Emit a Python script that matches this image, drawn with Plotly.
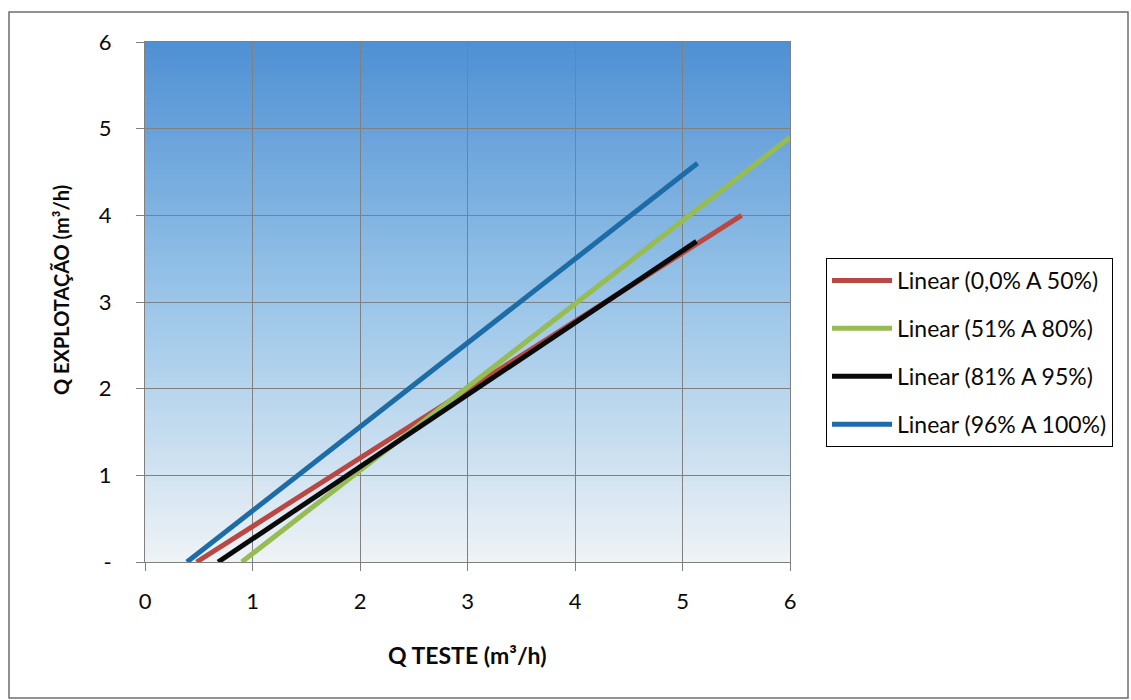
import plotly.graph_objects as go

# Trendline data (endpoints)
series_names = ["Linear (0,0% A 50%)", "Linear (51% A 80%)", "Linear (81% A 95%)", "Linear (96% A 100%)"]
x_start = [0.48, 0.90, 0.68, 0.39]
x_end = [5.55, 6.00, 5.13, 5.14]
y_start = [0.0, 0.0, 0.0, 0.0]
y_end = [4.00, 4.90, 3.70, 4.60]
colors = ["rgb(185,72,66)", "rgb(150,188,82)", "rgb(10,10,10)", "rgb(28,108,168)"]

y_tickvals = [0, 1, 2, 3, 4, 5, 6]
y_ticktext = ["-", "1", "2", "3", "4", "5", "6"]
x_tickvals = [0, 1, 2, 3, 4, 5, 6]

FONT = "Lato"
TXT = "rgb(10,10,10)"

fig = go.Figure()
for i, name in enumerate(series_names):
    fig.add_trace(go.Scatter(
        x=[x_start[i], x_end[i]], y=[y_start[i], y_end[i]],
        mode="lines", name=name, legendgroup=f"g{i}",
        line=dict(color=colors[i], width=5),
    ))

# Vertical gradient background for plot area
shapes = []
n = 90
top = (80, 145, 212)
mid = (155, 198, 233)
bot = (238, 243, 246)
for k in range(n):
    t = k / (n - 1)  # 0 bottom -> 1 top
    if t < 0.5:
        u = t / 0.5
        c = tuple(int(bot[j] + (mid[j] - bot[j]) * u) for j in range(3))
    else:
        u = (t - 0.5) / 0.5
        c = tuple(int(mid[j] + (top[j] - mid[j]) * u) for j in range(3))
    shapes.append(dict(type="rect", xref="paper", yref="paper",
                       x0=0, x1=1, y0=k / n, y1=(k + 1) / n + 0.002,
                       fillcolor=f"rgb{c}", line=dict(width=0), layer="below"))

# Outer chart border
L, R, T, B = 145, 341, 42, 138
W, H = 1131, 700
pw, ph = W - L - R, H - T - B
def px_x(p): return (p - L) / pw
def px_y(p): return (H - B - p) / ph
shapes.append(dict(type="rect", xref="paper", yref="paper",
                   x0=px_x(9), x1=px_x(1128), y0=px_y(698), y1=px_y(12),
                   line=dict(color="rgb(110,110,110)", width=1.5), fillcolor="rgba(0,0,0,0)"))

axis_common = dict(
    range=[0, 6], showgrid=True, gridcolor="rgb(128,128,128)", gridwidth=1,
    zeroline=False, showline=True, linecolor="rgb(128,128,128)", linewidth=1, mirror=True,
    ticks="outside", ticklen=8, tickcolor="rgb(128,128,128)",
    tickfont=dict(family=FONT, size=22, color=TXT),
)

fig.update_layout(
    width=W, height=H,
    margin=dict(l=L, r=R, t=T, b=B),
    paper_bgcolor="white", plot_bgcolor="rgba(0,0,0,0)",
    shapes=shapes,
    xaxis=dict(**axis_common, tickvals=x_tickvals, ticklabelstandoff=12),
    yaxis=dict(**axis_common, tickvals=y_tickvals, ticktext=y_ticktext, ticklabelstandoff=20),
    showlegend=True,
    legend=dict(
        x=px_x(826), y=px_y(258), xanchor="left", yanchor="top",
        bordercolor="black", borderwidth=1, bgcolor="white",
        font=dict(family=FONT, size=23, color=TXT),
        traceorder="grouped", tracegroupgap=15, itemwidth=60,
    ),
    annotations=[
        dict(text="<b>Q TESTE (m³/h)</b>", xref="paper", yref="paper",
             x=0.5, y=px_y(655), xanchor="center", yanchor="middle", showarrow=False,
             font=dict(family=FONT, size=23, color=TXT)),
        dict(text="<b>Q EXPLOTAÇÃO (m³/h)</b>", xref="paper", yref="paper",
             x=px_x(61), y=px_y(290), xanchor="center", yanchor="middle", showarrow=False,
             textangle=-90,
             font=dict(family=FONT, size=20, color=TXT)),
    ],
)

fig.write_html("out.html")
